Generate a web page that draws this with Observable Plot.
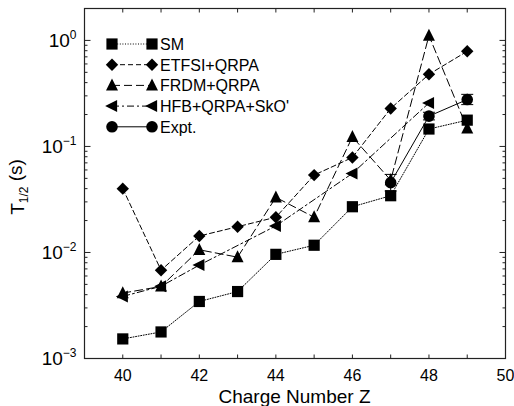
<!DOCTYPE html>
<html><head><meta charset="utf-8">
<script src="https://cdn.jsdelivr.net/npm/d3@7"></script>
<script src="https://cdn.jsdelivr.net/npm/@observablehq/plot@0.6"></script>
<style>
body{margin:0;background:#fff}
#chart{width:514px;height:406px}
</style>
</head><body><div id="chart"></div>
<script>
// ---- data ----
const Z = [40, 41, 42, 43, 44, 45, 46, 47, 48, 49];
const SM    = [0.00153, 0.00178, 0.00345, 0.00428, 0.0096, 0.0117, 0.027, 0.0343, 0.146, 0.177];
const ETFSI = [0.040, 0.0068, 0.0143, 0.0175, 0.0215, 0.0537, 0.0787, 0.228, 0.479, 0.79];
const FRDM  = [0.00414, 0.00478, 0.0106, 0.00903, 0.0331, 0.0215, 0.123, 0.048, 1.11, 0.148];
const HFB   = [0.00385, 0.0048, 0.0076, null, 0.0178, null, 0.0557, null, 0.257, null];
const EXPT_Z = [47, 48, 49];
const EXPT   = [0.0455, 0.193, 0.277];
const EXPT_LO = [0.038, 0.178, 0.248];
const EXPT_HI = [0.0545, 0.21, 0.31];
const seriesNames = ["SM", "ETFSI+QRPA", "FRDM+QRPA", "HFB+QRPA+SkO'", "Expt."];
const xTickLabels = [40, 42, 44, 46, 48, 50];
const xMinorTicks = [39, 41, 43, 45, 47, 49];
const yTickLabels = [1e-3, 1e-2, 1e-1, 1];
const yMinorTicks = [2e-3,3e-3,4e-3,5e-3,6e-3,7e-3,8e-3,9e-3,
                     2e-2,3e-2,4e-2,5e-2,6e-2,7e-2,8e-2,9e-2,
                     2e-1,3e-1,4e-1,5e-1,6e-1,7e-1,8e-1,9e-1, 2];

// ---- symbols ----
const SQUARE = {draw(c, s){ const r = Math.sqrt(s/Math.PI); c.moveTo(-r,-r); c.lineTo(r,-r); c.lineTo(r,r); c.lineTo(-r,r); c.closePath(); }};
const DIAMOND = {draw(c, s){ const r = Math.sqrt(s/Math.PI); c.moveTo(0,-r); c.lineTo(r,0); c.lineTo(0,r); c.lineTo(-r,0); c.closePath(); }};
const TRI_UP = {draw(c, s){ const r = Math.sqrt(s/Math.PI); c.moveTo(0,-1.15*r); c.lineTo(r,0.85*r); c.lineTo(-r,0.85*r); c.closePath(); }};
const TRI_LEFT = {draw(c, s){ const r = Math.sqrt(s/Math.PI); c.moveTo(-1.15*r,0); c.lineTo(0.85*r,-r); c.lineTo(0.85*r,r); c.closePath(); }};
const CIRCLE = {draw(c, s){ const r = Math.sqrt(s/Math.PI); c.moveTo(r,0); c.arc(0,0,r,0,2*Math.PI); }};
const tick = (dx, dy) => ({draw(c){ c.moveTo(0,0); c.lineTo(dx,dy); }});
const CAP = {draw(c){ c.moveTo(-6,0); c.lineTo(6,0); }};

const styles = [
  {vals: SM,    sym: SQUARE,   r: 5.6, dash: "1,1.6", w: 1},
  {vals: ETFSI, sym: DIAMOND,  r: 6.2, dash: "5,3",   w: 1},
  {vals: FRDM,  sym: TRI_UP,   r: 6,   dash: "8,4",   w: 1},
  {vals: HFB,   sym: TRI_LEFT, r: 6,   dash: "7,3,2,3", w: 1},
];

const rows = (vals) => Z.map((z, i) => ({z, v: vals[i]})).filter(d => d.v != null);
const expt = EXPT_Z.map((z, i) => ({z, v: EXPT[i], lo: EXPT_LO[i], hi: EXPT_HI[i]}));

const marks = [];
for (const s of styles) {
  marks.push(Plot.line(rows(s.vals), {x: "z", y: "v", stroke: "black", strokeWidth: s.w, strokeDasharray: s.dash}));
}
marks.push(Plot.line(expt, {x: "z", y: "v", stroke: "black", strokeWidth: 1}));
for (const s of styles) {
  marks.push(Plot.dot(rows(s.vals), {x: "z", y: "v", symbol: s.sym, r: s.r, fill: "black", stroke: "none"}));
}
marks.push(Plot.ruleX(expt, {x: "z", y1: "lo", y2: "hi", stroke: "black", strokeWidth: 1}));
marks.push(Plot.dot(expt, {x: "z", y: "lo", symbol: CAP, fill: "none", stroke: "black", strokeWidth: 1}));
marks.push(Plot.dot(expt, {x: "z", y: "hi", symbol: CAP, fill: "none", stroke: "black", strokeWidth: 1}));
marks.push(Plot.dot(expt, {x: "z", y: "v", symbol: CIRCLE, r: 5.8, fill: "black", stroke: "none"}));

// ticks (inward)
const tk = {fill: "none", stroke: "#222", strokeWidth: 1};
marks.push(Plot.dot(yTickLabels, {y: d => d, frameAnchor: "left", symbol: tick(6,0), ...tk}));
marks.push(Plot.dot(yTickLabels, {y: d => d, frameAnchor: "right", symbol: tick(-6,0), ...tk}));
marks.push(Plot.dot(yMinorTicks, {y: d => d, frameAnchor: "left", symbol: tick(3,0), ...tk}));
marks.push(Plot.dot(yMinorTicks, {y: d => d, frameAnchor: "right", symbol: tick(-3,0), ...tk}));
marks.push(Plot.dot(xTickLabels.concat(xMinorTicks), {x: d => d, frameAnchor: "bottom", symbol: tick(0,-4), ...tk}));
marks.push(Plot.dot(xTickLabels.concat(xMinorTicks), {x: d => d, frameAnchor: "top", symbol: tick(0,4), ...tk}));

marks.push(Plot.axisX({ticks: xTickLabels, tickSize: 0, tickPadding: 11, fontSize: 16, label: null}));
marks.push(Plot.axisY({ticks: yTickLabels, tickSize: 0, tickPadding: 8, fontSize: 19, label: null,
  tickFormat: d => "10^" + Math.round(Math.log10(d))}));
marks.push(Plot.frame({stroke: "#222", strokeWidth: 1.2}));

const plot = Plot.plot({
  width: 514, height: 406,
  marginLeft: 84, marginRight: 9, marginTop: 8, marginBottom: 48,
  x: {type: "linear", domain: [39, 50]},
  y: {type: "log", domain: [1e-3, 2]},
  style: {fontFamily: "'Liberation Sans', Arial, Helvetica, sans-serif", color: "black", background: "white"},
  marks
});
document.getElementById("chart").appendChild(plot);

const svg = d3.select(plot);
// superscript tick labels
svg.selectAll('g[aria-label="y-axis tick label"] text').each(function() {
  const t = d3.select(this);
  const s = t.text();
  if (!s.includes("^")) return;
  const [b, e] = s.split("^");
  t.text(null);
  t.append("tspan").text(b);
  t.append("tspan").attr("font-size", 12).attr("dy", "-0.6em").text(e.replace("-", "\u2212"));
});

const FONT = "'Liberation Sans', Arial, Helvetica, sans-serif";
// axis titles
svg.append("text").attr("x", 294.5).attr("y", 403).attr("text-anchor", "middle")
  .attr("font-size", 19).attr("font-family", FONT).attr("fill", "black").text("Charge Number Z");
const yl = svg.append("text").attr("transform", "translate(24,187) rotate(-90)").attr("text-anchor", "middle")
  .attr("font-size", 19).attr("font-family", FONT).attr("fill", "black");
yl.append("tspan").text("T");
yl.append("tspan").attr("font-size", 12).attr("dy", "0.35em").text("1/2");
yl.append("tspan").attr("dy", "-0.35em").text(" (s)");

// legend
const legSyms = [SQUARE, DIAMOND, TRI_UP, TRI_LEFT, CIRCLE];
const legR = [5.6, 6.2, 6, 6, 5.8];
const legDash = ["1,1.6", "5,3", "8,4", "7,3,2,3", null];
const lg = svg.append("g").attr("font-family", FONT).attr("font-size", 16).attr("text-anchor", "start");
seriesNames.forEach((name, i) => {
  const y = 44 + i * 20.7;
  lg.append("line").attr("x1", 112).attr("x2", 152).attr("y1", y).attr("y2", y)
    .attr("stroke", "black").attr("stroke-width", 1).attr("stroke-dasharray", legDash[i]);
  for (const x of [112, 152]) {
    lg.append("path").attr("transform", `translate(${x},${y})`)
      .attr("d", d3.symbol(legSyms[i], Math.PI * legR[i] * legR[i])()).attr("fill", "black");
  }
  lg.append("text").attr("x", 160).attr("y", y + 6).attr("text-anchor", "start").attr("fill", "black").text(name);
});
</script>
</body></html>
